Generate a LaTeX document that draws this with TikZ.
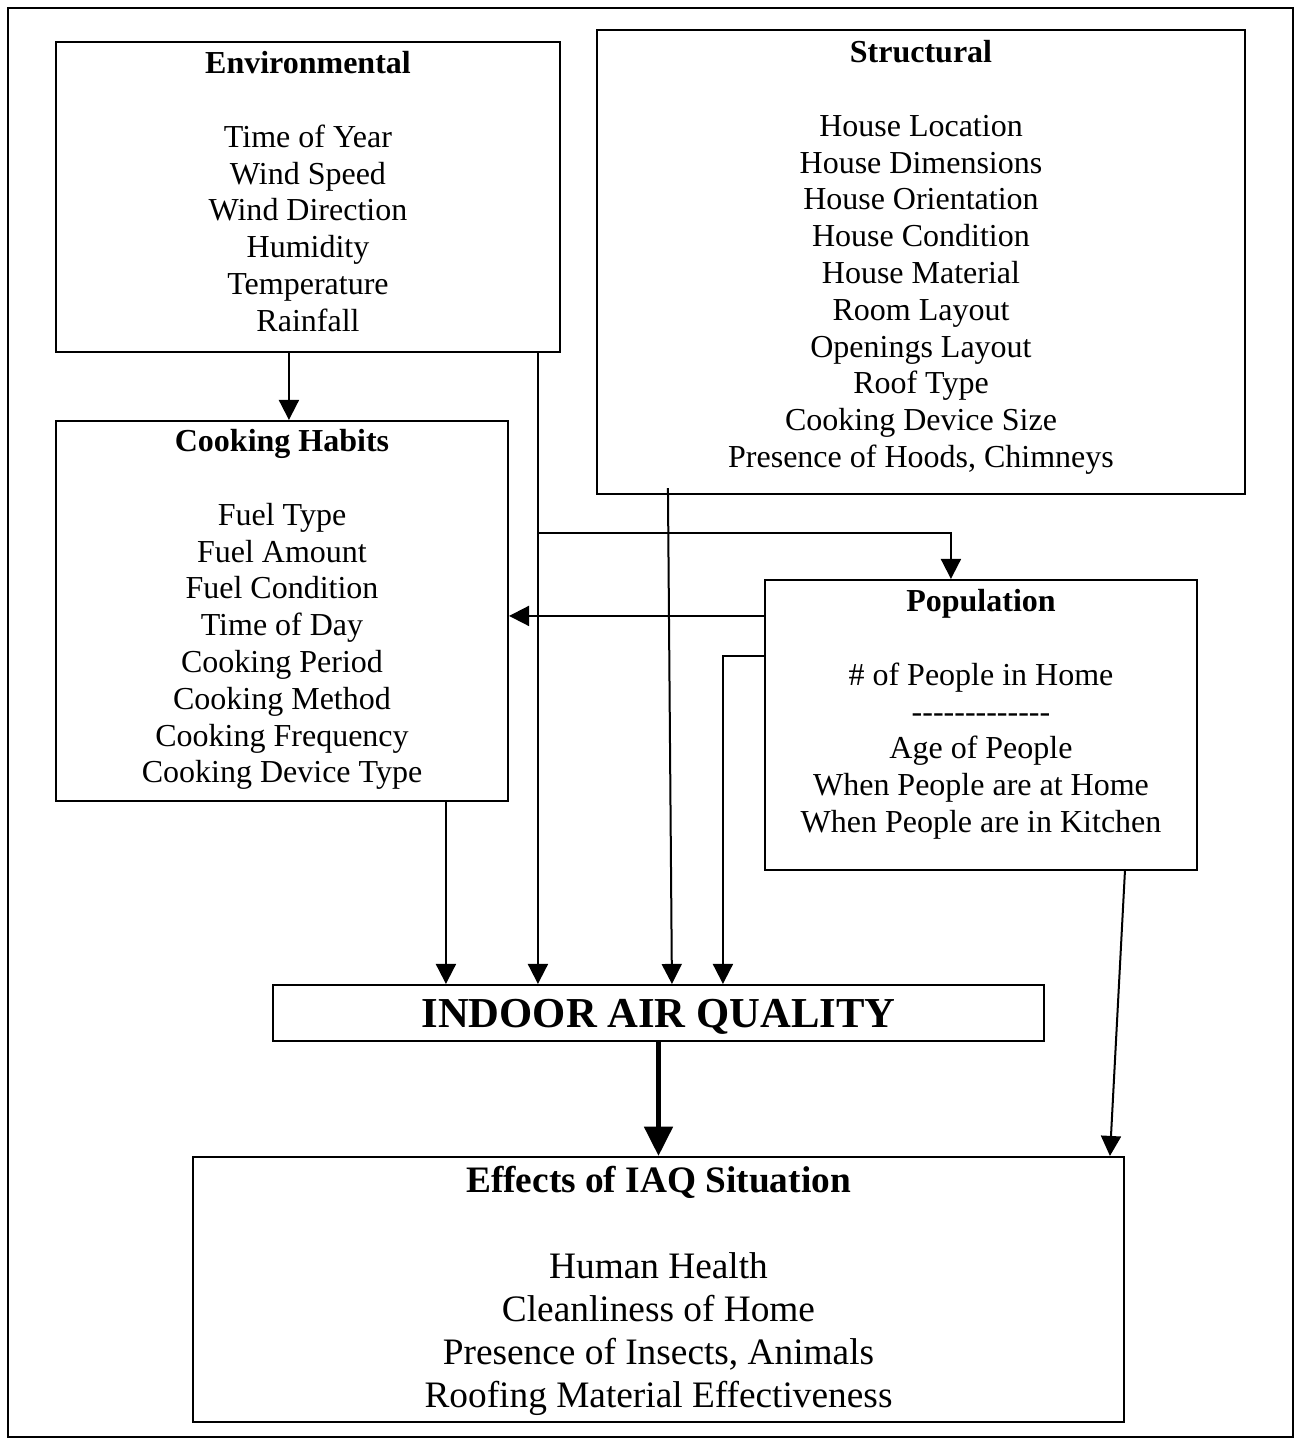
\documentclass[tikz,border=0pt]{standalone}
\usepackage{fontspec}
\setmainfont{Liberation Serif}
\newfontfamily\dashfont{Liberation Serif}
\usetikzlibrary{arrows.meta}

\begin{document}
\begin{tikzpicture}[x=0.375pt,y=-0.375pt,
  box/.style={draw,line width=0.8pt,inner sep=0pt},
  txt/.style={anchor=north,inner sep=0pt,align=center,font=\fontsize{12pt}{13.8pt}\selectfont},
  arr/.style={line width=0.75pt,-{Triangle[width=7.5pt,length=7.5pt]}},
  bigarr/.style={line width=1.9pt,-{Triangle[width=10.5pt,length=11pt]}}]
\useasboundingbox (0,0) rectangle (1301,1445);
\draw[line width=0.75pt] (8,8) rectangle (1293,1437);

\node[box,minimum width=189pt,minimum height=116.25pt] (env) at (308,197) {};
\node[box,minimum width=243pt,minimum height=174pt] (struct) at (921,262) {};
\node[box,minimum width=169.5pt,minimum height=142.5pt] (cook) at (282,611) {};
\node[box,minimum width=162pt,minimum height=108.75pt] (pop) at (981,725) {};
\node[box,minimum width=289.125pt,minimum height=21pt,text depth=0pt,font=\fontsize{16pt}{19pt}\selectfont\bfseries] (iaq) at (658.5,1013) {INDOOR AIR QUALITY};
\node[box,minimum width=349.125pt,minimum height=99.375pt] (effects) at (658.5,1289.5) {};

\node[txt] (envtext) at ([shift={(0,10)}]env.north) {\textbf{Environmental}\\[13.8pt]
  Time of Year\\Wind Speed\\Wind Direction\\Humidity\\Temperature\\Rainfall};
\node[txt] (structtext) at ([shift={(0,11)}]struct.north) {\textbf{Structural}\\[13.8pt]
  House Location\\House Dimensions\\House Orientation\\House Condition\\House Material\\
  Room Layout\\Openings Layout\\Roof Type\\Cooking Device Size\\Presence of Hoods, Chimneys};
\node[txt] (cooktext) at ([shift={(0,9)}]cook.north) {\textbf{Cooking Habits}\\[13.8pt]
  Fuel Type\\Fuel Amount\\Fuel Condition\\Time of Day\\Cooking Period\\Cooking Method\\
  Cooking Frequency\\Cooking Device Type};
\node[txt] (poptext) at ([shift={(0,10)}]pop.north) {\textbf{Population}\\[13.8pt]
  \# of People in Home\\{\dashfont -------------}\\Age of People\\When People are at Home\\
  When People are in Kitchen};
\node[txt,font=\fontsize{14pt}{16.1pt}\selectfont] (effectstext) at ([shift={(0,10)}]effects.north)
  {\textbf{Effects of IAQ Situation}\\[16.1pt]
  Human Health\\Cleanliness of Home\\Presence of Insects, Animals\\Roofing Material Effectiveness};

\coordinate (split) at (539,533);

\draw[arr] ([shift={(234,0)}]env.south west) coordinate (e1) -- (e1 |- cook.north);
\draw[arr] ([shift={(483,0)}]env.south west) coordinate (e2) -- (e2 |- iaq.north);
\draw[arr] (split) -| ([shift={(187,0)}]pop.north west);
\draw[arr] ([shift={(72,-7)}]struct.south west) -- ([shift={(400,0)}]iaq.north west);
\draw[arr] ([shift={(0,37)}]pop.north west) coordinate (p1) -- (p1 -| cook.east);
\draw[arr] ([shift={(0,77)}]pop.north west) -| ([shift={(451,0)}]iaq.north west);
\draw[arr] ([shift={(391,0)}]cook.south west) coordinate (c1) -- (c1 |- iaq.north);
\draw[arr] ([shift={(361,0)}]pop.south west) -- ([shift={(918,0)}]effects.north west);
\draw[bigarr] (iaq.south) -- (effects.north);
\end{tikzpicture}
\end{document}
